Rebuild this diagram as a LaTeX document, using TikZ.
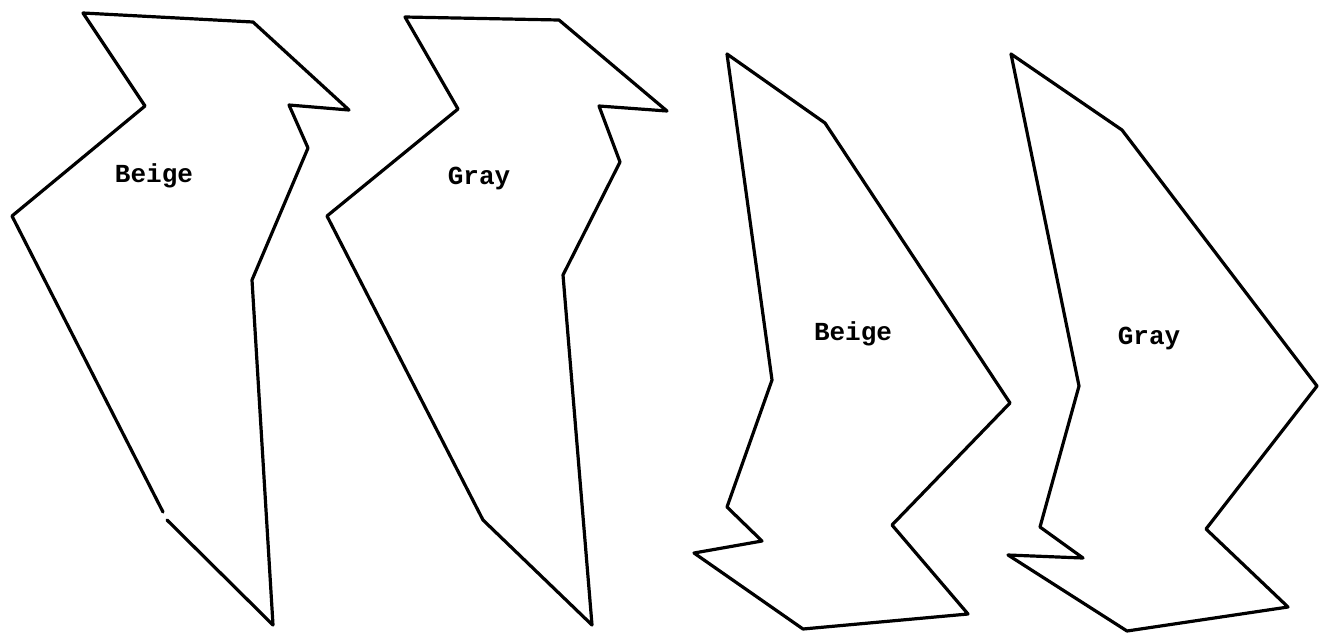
\documentclass[tikz,border=0pt]{standalone}
\usepackage{fontspec}
\newfontfamily\tyfont{Liberation Mono}
\usetikzlibrary{positioning}

\begin{document}
\begin{tikzpicture}[x=1pt,y=-1pt,line join=round,line cap=round]
\tikzstyle{edge}=[draw,line width=3.2pt]
\tikzstyle{lab}=[font=\tyfont\bfseries\fontsize{26}{30}\selectfont,inner sep=0pt]
\useasboundingbox (0,0) rectangle (1319,633);
% left pair
\draw[edge] (167,520) -- (273,625) -- (252,280) -- (308,148) -- (289,105) -- (349,110)
  -- (253,22) -- (83,13) -- (145,106) -- (12,216) -- (163,512);
\draw[edge] (483,520) -- (592,625) -- (563,275) -- (620,162) -- (599,106) -- (667,111)
  -- (559,20) -- (405,17) -- (458,109) -- (327,216) -- cycle;
\node[lab] (beigeA) at (154,176) {Beige};
\node[lab] (grayA) at (479,178) {Gray};
% right pair
\draw[edge] (727,54) -- (825,123) -- (1010,403) -- (892,525) -- (968,614) -- (803,629)
  -- (694,553) -- (762,541) -- (727,507) -- (772,380) -- cycle;
\draw[edge] (1011,54) -- (1122,130) -- (1317,386) -- (1206,529) -- (1288,607) -- (1127,631)
  -- (1008,555) -- (1083,558) -- (1040,527) -- (1079,386) -- cycle;
\node[lab] (beigeB) at (853,334) {Beige};
\node[lab] (grayB) at (1149,338) {Gray};
\end{tikzpicture}
\end{document}
